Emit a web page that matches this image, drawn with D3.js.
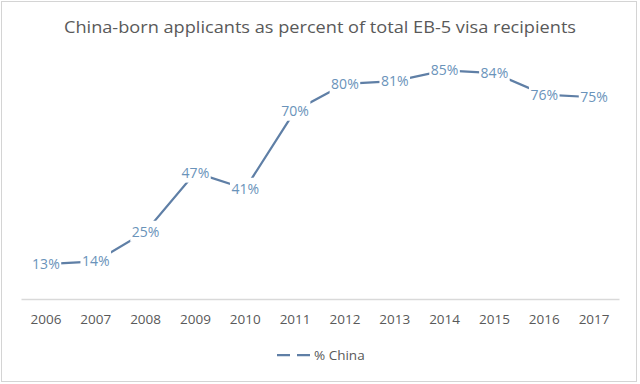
<!DOCTYPE html>
<html>
<head>
<meta charset="utf-8">
<script src="https://cdn.jsdelivr.net/npm/d3@7"></script>
<style>
  body { margin: 0; background: #fff; }
  svg { display: block; }
</style>
</head>
<body>
<svg id="chart" width="640" height="384"></svg>
<script>
// data
var years = ["2006", "2007", "2008", "2009", "2010", "2011", "2012", "2013", "2014", "2015", "2016", "2017"];
var chinaPct = [13, 14, 25, 47, 41, 70, 80, 81, 85, 84, 76, 75];
var seriesName = "% China";
var chartTitle = "China-born applicants as percent of total EB-5 visa recipients";

var svg = d3.select("#chart");
var fontFam = "'Open Sans', 'Noto Sans', sans-serif";

// outer frame
svg.append("rect")
  .attr("x", 1.5).attr("y", 1.5)
  .attr("width", 635).attr("height", 380)
  .attr("fill", "#fff")
  .attr("stroke", "#d4d4d4")
  .attr("stroke-width", 1);

var x = d3.scaleBand().domain(years).range([21, 619]);
var y = d3.scaleLinear().domain([0, 100]).range([299, 30]);

// title
svg.append("text")
  .attr("x", 320).attr("y", 33)
  .attr("text-anchor", "middle")
  .style("font-family", fontFam)
  .style("font-size", "16px")
  .attr("textLength", 512)
  .attr("lengthAdjust", "spacingAndGlyphs")
  .attr("fill", "#595959")
  .text(chartTitle);

// x axis
var xAxis = svg.append("g")
  .attr("transform", "translate(0," + y(0) + ")")
  .call(d3.axisBottom(x).tickSize(0).tickPadding(15));
xAxis.select(".domain").attr("stroke", "#d9d9d9").attr("stroke-width", 1.5);
xAxis.selectAll("text")
  .style("font-family", fontFam)
  .style("font-size", "13.5px")
  .attr("fill", "#595959");

// line
var line = d3.line()
  .x(function(d, i) { return x(years[i]) + x.bandwidth() / 2; })
  .y(function(d) { return y(d); });

svg.append("path")
  .datum(chinaPct)
  .attr("d", line)
  .attr("fill", "none")
  .attr("stroke", "#5f7fa6")
  .attr("stroke-width", 2.25);

// data labels centred on the points, white box hides the line below
var labels = svg.selectAll(".pt-label")
  .data(chinaPct)
  .enter()
  .append("g")
  .attr("class", "pt-label")
  .attr("transform", function(d, i) {
    return "translate(" + (x(years[i]) + x.bandwidth() / 2) + "," + y(d) + ")";
  });

var bg = labels.append("rect")
  .attr("fill", "#fff");

labels.append("text")
  .attr("text-anchor", "middle")
  .attr("dy", "0.36em")
  .style("font-family", fontFam)
  .style("font-size", "14px")
  .attr("fill", "#6a93ba")
  .text(function(d) { return d + "%"; })
  .each(function() {
    var b = this.getBBox();
    d3.select(this.parentNode).select("rect")
      .attr("x", b.x - 1.5).attr("y", b.y - 1)
      .attr("width", b.width + 3).attr("height", b.height + 2);
  });

// legend
var lg = svg.append("g").attr("transform", "translate(277,355)");
lg.append("line")
  .attr("x1", 0).attr("x2", 35)
  .attr("y1", 0).attr("y2", 0)
  .attr("stroke", "#5f7fa6")
  .attr("stroke-width", 2.25)
  .attr("stroke-dasharray", "13,7");
lg.append("text")
  .attr("x", 37).attr("y", 0)
  .attr("dy", "0.36em")
  .style("font-family", fontFam)
  .style("font-size", "13.5px")
  .attr("fill", "#595959")
  .text(seriesName);
</script>
</body>
</html>
